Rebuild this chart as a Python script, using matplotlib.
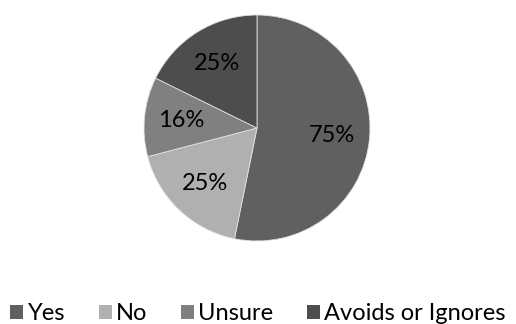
import matplotlib
matplotlib.use("Agg")
import matplotlib.pyplot as plt
from matplotlib.patches import Patch

plt.rcParams['font.family'] = ['Lato', 'DejaVu Sans']

categories = ["Yes", "No", "Unsure", "Avoids or Ignores"]
values = [75, 25, 16, 25]
colors = ["#606060", "#b0b0b0", "#808080", "#4d4d4d"]

W, H = 516, 324
fig = plt.figure(figsize=(W / 100, H / 100), dpi=100)

cx, cy, r = 257, 128, 113
ax = fig.add_axes([(cx - r) / W, (H - cy - r) / H, 2 * r / W, 2 * r / H])

total = sum(values)
wedges, texts, autotexts = ax.pie(
    values,
    colors=colors,
    startangle=90,
    counterclock=False,
    autopct=lambda p: f"{round(p * total / 100)}%",
    pctdistance=0.67,
    wedgeprops=dict(edgecolor="#e0e0e0", linewidth=0.6),
    textprops=dict(fontsize=17, color="black"),
)
ax.set_xlim(-1, 1)
ax.set_ylim(-1, 1)
ax.set_aspect("equal")

handles = [Patch(facecolor=c, edgecolor="none") for c in colors]
fig.legend(
    handles, categories,
    loc="center", bbox_to_anchor=(0.5, 1 - 314 / H),
    ncol=4, frameon=False, fontsize=17,
    handlelength=0.55, handleheight=0.55, handletextpad=0.2,
    columnspacing=1.4, borderaxespad=0, borderpad=0,
)

fig.savefig("out.png", dpi=100)
